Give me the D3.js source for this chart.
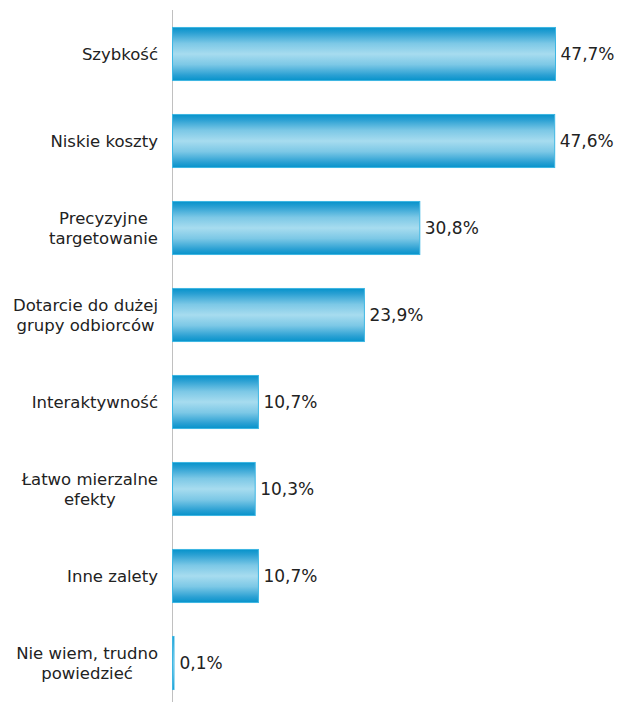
<!DOCTYPE html>
<html>
<head>
<meta charset="utf-8">
<script src="https://cdn.jsdelivr.net/npm/d3@7"></script>
<style>
html,body{margin:0;padding:0;background:#fff;}
svg{display:block;}
</style>
</head>
<body>
<svg id="chart" width="619" height="702"></svg>
<script>
const categories = [
  ["Szybkość"],
  ["Niskie koszty"],
  ["Precyzyjne", "targetowanie"],
  ["Dotarcie do dużej", "grupy odbiorców"],
  ["Interaktywność"],
  ["Łatwo mierzalne", "efekty"],
  ["Inne zalety"],
  ["Nie wiem, trudno", "powiedzieć"]
];
const values = [47.7, 47.6, 30.8, 23.9, 10.7, 10.3, 10.7, 0.1];
const valueLabels = ["47,7%", "47,6%", "30,8%", "23,9%", "10,7%", "10,3%", "10,7%", "0,1%"];

const svg = d3.select("#chart");
const x0 = 172;
const x = d3.scaleLinear().domain([0, 47.7]).range([x0, 555]);
const y = d3.scaleBand().domain(d3.range(categories.length)).range([10.5, 706.5])
  .paddingInner(0.39).paddingOuter(0.195);

const defs = svg.append("defs");
const g = defs.append("linearGradient").attr("id", "barGrad")
  .attr("x1", 0).attr("y1", 0).attr("x2", 0).attr("y2", 1);
[[0, "#0693cb"], [0.1, "#2aa0d3"], [0.3, "#7cc8e6"], [0.5, "#a7dcef"], [0.7, "#7cc8e6"], [0.9, "#2aa0d3"], [1, "#0693cb"]]
  .forEach(([o, c]) => g.append("stop").attr("offset", o).attr("stop-color", c));

// axis line
svg.append("line").attr("x1", x0 + 0.5).attr("x2", x0 + 0.5).attr("y1", 10).attr("y2", 702)
  .attr("stroke", "#c0c0c0").attr("stroke-width", 1);

// bars
svg.selectAll("rect.bar").data(values).join("rect").attr("class", "bar")
  .attr("x", x0 + 0.5)
  .attr("y", (d, i) => y(i))
  .attr("width", d => Math.max(x(d) - x0, 1.5))
  .attr("height", y.bandwidth())
  .attr("fill", "url(#barGrad)")
  .attr("stroke", "#3db6e3").attr("stroke-width", 1);

// value labels
svg.selectAll("text.val").data(values).join("text").attr("class", "val")
  .attr("x", d => Math.max(x(d), x0 + 2) + 5.5)
  .attr("y", (d, i) => y(i) + y.bandwidth() / 2)
  .attr("dy", "0.35em")
  .attr("font-family", "DejaVu Sans, Verdana, sans-serif")
  .attr("font-size", 17)
  .attr("fill", "#222")
  .text((d, i) => valueLabels[i]);

// category labels
const lineH = 20;
categories.forEach((lines, i) => {
  const cy = y(i) + y.bandwidth() / 2;
  const grp = svg.append("g");
  const texts = lines.map((t, k) => grp.append("text")
    .attr("y", cy + (k - (lines.length - 1) / 2) * lineH)
    .attr("dy", "0.35em")
    .attr("font-family", "DejaVu Sans, Verdana, sans-serif")
    .attr("font-size", 16.5)
    .attr("fill", "#222")
    .attr("text-anchor", "middle")
    .text(t));
  const maxW = d3.max(texts, t => t.node().getComputedTextLength());
  const right = 158;
  texts.forEach(t => t.attr("x", right - maxW / 2));
});
</script>
</body>
</html>
